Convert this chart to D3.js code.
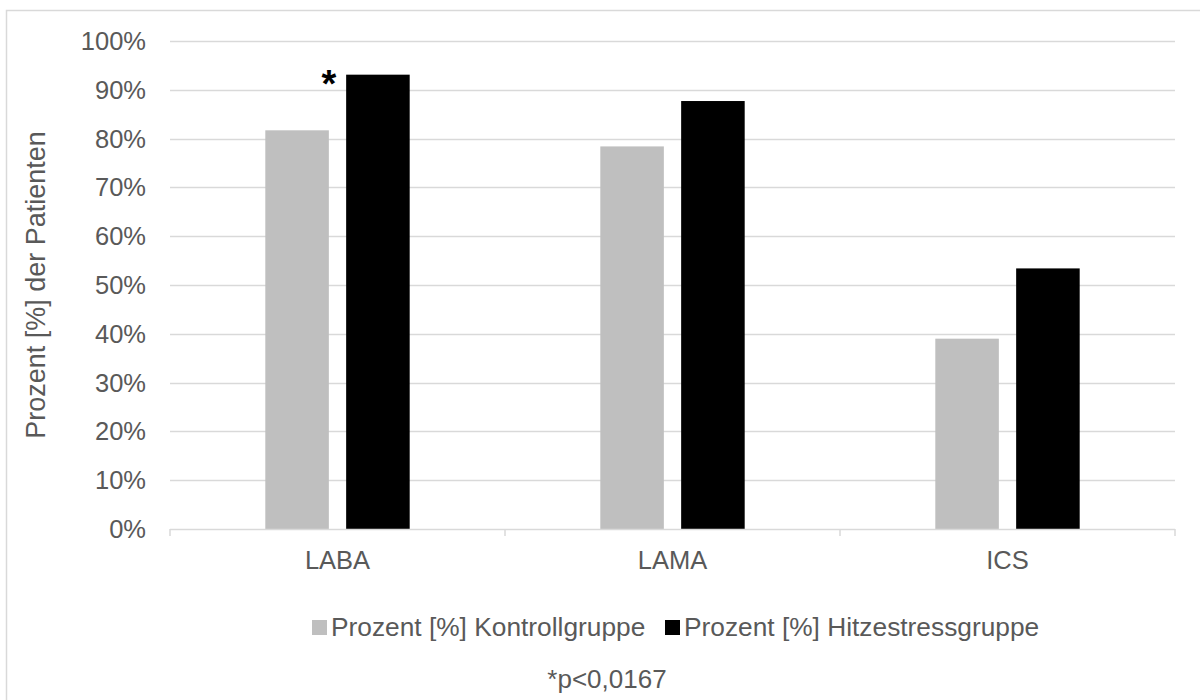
<!DOCTYPE html>
<html><head><meta charset="utf-8">
<script src="https://cdn.jsdelivr.net/npm/d3@7"></script>
<style>body{margin:0;background:#fff;}svg{display:block;font-family:"Liberation Sans",Arial,sans-serif;}</style>
</head><body>
<svg id="c" width="1200" height="700"></svg>
<script>
const categories = ["LABA", "LAMA", "ICS"];
const seriesNames = ["Prozent [%] Kontrollgruppe", "Prozent [%] Hitzestressgruppe"];
const kontroll = [81.7, 78.4, 39.0];
const hitzestress = [93.1, 87.7, 53.4];
const yTicks = [0,10,20,30,40,50,60,70,80,90,100];
const seriesColors = ["#bfbfbf", "#000000"];
const significant = ["LABA"];

const svg = d3.select("#c");
const L = 170, R = 1175, T = 41, B = 529;
const FS = 25.5;

// outer border
svg.append("rect").attr("x",6.5).attr("y",10.5).attr("width",1220).attr("height",720)
  .attr("fill","none").attr("stroke","#d9d9d9").attr("stroke-width",1.5);

const y = d3.scaleLinear().domain([0,100]).range([B,T]);
const x0 = d3.scaleBand().domain(categories).range([L,R]).paddingInner(0.569).paddingOuter(0.2845);
const x1 = d3.scaleBand().domain(seriesNames).range([0,x0.bandwidth()]).paddingInner(0.214);

// gridlines
svg.append("g").selectAll("line").data(yTicks.filter(d=>d>0)).join("line")
  .attr("x1",L).attr("x2",R).attr("y1",d=>Math.round(y(d))+0.5).attr("y2",d=>Math.round(y(d))+0.5)
  .attr("stroke","#d9d9d9").attr("stroke-width",1.5);

// y tick labels
svg.append("g").selectAll("text").data(yTicks).join("text")
  .attr("x",146).attr("y",d=>y(d)).attr("dy","0.35em").attr("text-anchor","end")
  .attr("font-size",FS).attr("fill","#595959").text(d=>d+"%");

// bars
const data = categories.map((c,i)=>({cat:c, vals:[kontroll[i], hitzestress[i]]}));
const g = svg.append("g").selectAll("g").data(data).join("g")
  .attr("transform",d=>`translate(${x0(d.cat)},0)`);
g.selectAll("rect").data(d=>d.vals.map((v,j)=>({v, s:seriesNames[j], j}))).join("rect")
  .attr("x",d=>x1(d.s)).attr("width",x1.bandwidth())
  .attr("y",d=>y(d.v)).attr("height",d=>y(0)-y(d.v))
  .attr("fill",d=>seriesColors[d.j]);

// x axis line and ticks
svg.append("line").attr("x1",L).attr("x2",R).attr("y1",B+0.5).attr("y2",B+0.5)
  .attr("stroke","#d9d9d9").attr("stroke-width",1.5);
const bounds = [L].concat(categories.map(c=>x0(c)+x0.bandwidth()+x0.step()*x0.paddingInner()/2));
bounds[bounds.length-1] = R;
svg.append("g").selectAll("line").data(bounds).join("line")
  .attr("x1",d=>d).attr("x2",d=>d).attr("y1",B).attr("y2",B+7)
  .attr("stroke","#d9d9d9").attr("stroke-width",1.5);

// category labels
svg.append("g").selectAll("text").data(categories).join("text")
  .attr("x",d=>x0(d)+x0.bandwidth()/2).attr("y",560).attr("dy","0.35em")
  .attr("text-anchor","middle").attr("font-size",FS).attr("fill","#595959").text(d=>d);

// significance asterisk
svg.append("g").selectAll("text").data(significant).join("text")
  .attr("x",d=>x0(d)+x1(seriesNames[0])+x1.bandwidth())
  .attr("y",d=>y(hitzestress[categories.indexOf(d)])+22)
  .attr("text-anchor","middle").attr("font-size",38).attr("font-weight","bold").attr("fill","#000").text("*");

// y axis title
svg.append("text").attr("transform",`translate(36,${(T+B)/2}) rotate(-90)`)
  .attr("text-anchor","middle").attr("dy","0.35em").attr("font-size",27).attr("fill","#595959")
  .text("Prozent [%] der Patienten");

// legend
const legendItems = [{x:312, tx:331},{x:665, tx:684}];
const lg = svg.append("g").selectAll("g").data(seriesNames).join("g");
lg.append("rect").attr("x",(d,i)=>legendItems[i].x).attr("y",620).attr("width",15).attr("height",15)
  .attr("fill",(d,i)=>seriesColors[i]);
lg.append("text").attr("x",(d,i)=>legendItems[i].tx).attr("y",627).attr("dy","0.35em")
  .attr("font-size",26.3).attr("fill","#595959").text(d=>d);

// footnote
svg.append("text").attr("x",607).attr("y",679).attr("dy","0.35em").attr("text-anchor","middle")
  .attr("font-size",26).attr("fill","#595959").text("*p<0,0167");
</script>
</body></html>
